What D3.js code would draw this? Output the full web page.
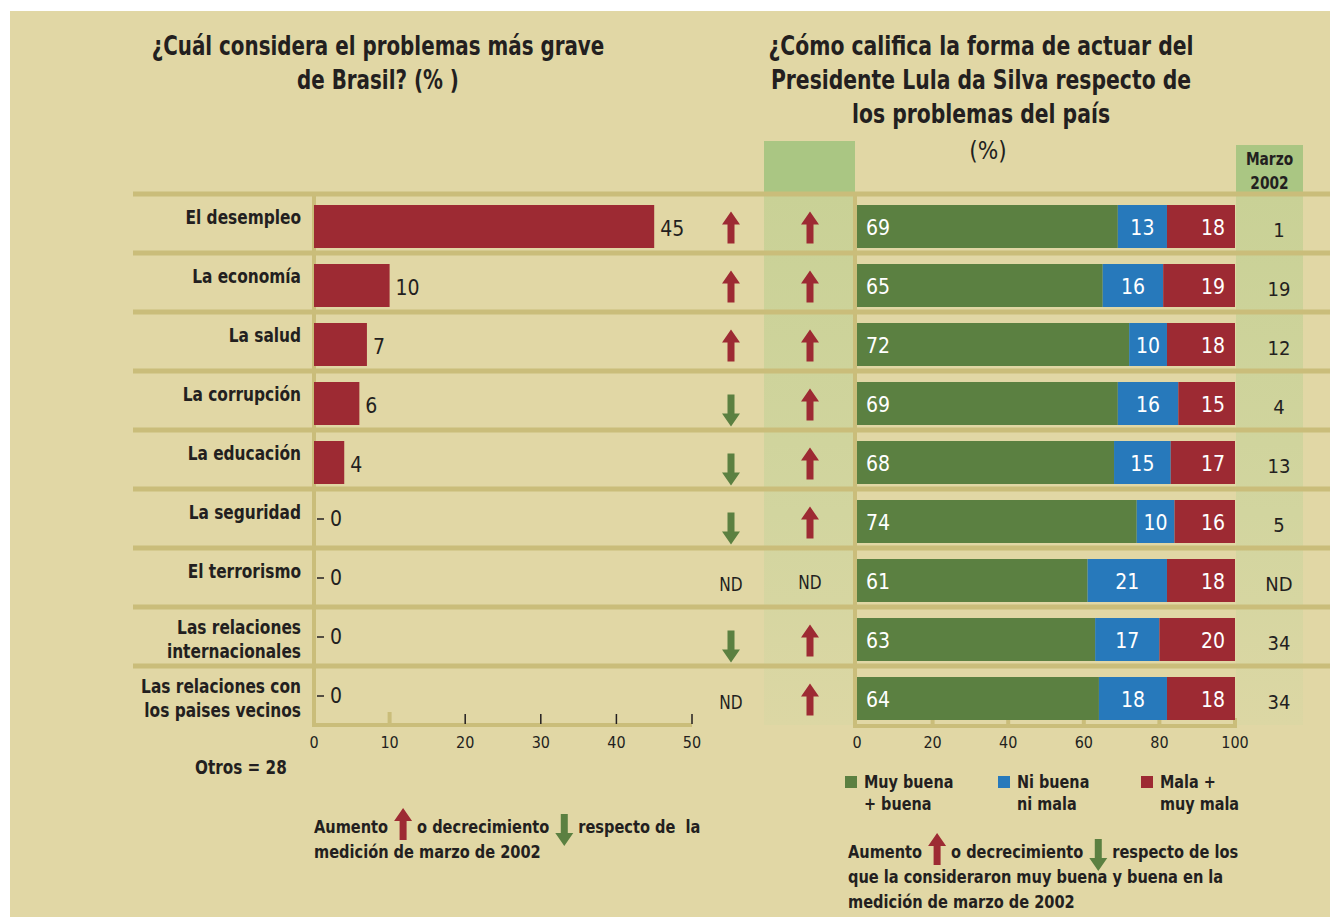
<!DOCTYPE html>
<html>
<head>
<meta charset="utf-8">
<script src="https://cdn.jsdelivr.net/npm/d3@7"></script>
<style>
  body { margin: 0; background: #fff; }
  svg text { font-family: "Liberation Sans Narrow", "DejaVu Sans Condensed", "Roboto Condensed", sans-serif; fill: #231f20; }
  .b { font-weight: bold; }
</style>
</head>
<body>
<div id="chart"></div>
<script>
// data
var categories = ["El desempleo", "La economía", "La salud", "La corrupción", "La educación",
                  "La seguridad", "El terrorismo", "Las relaciones internacionales",
                  "Las relaciones con los paises vecinos"];
var labelLines = [["El desempleo"], ["La economía"], ["La salud"], ["La corrupción"], ["La educación"],
                  ["La seguridad"], ["El terrorismo"], ["Las relaciones", "internacionales"],
                  ["Las relaciones con", "los paises vecinos"]];
var problemPct = [45, 10, 7, 6, 4, 0, 0, 0, 0];
var changeProblem = ["up", "up", "up", "down", "down", "down", "ND", "down", "ND"];
var changeRating = ["up", "up", "up", "up", "up", "up", "ND", "up", "up"];
var muyBuena = [69, 65, 72, 69, 68, 74, 61, 63, 64];
var niBuena = [13, 16, 10, 16, 15, 10, 21, 17, 18];
var mala = [18, 19, 18, 15, 17, 16, 18, 20, 18];
var marzo2002 = ["1", "19", "12", "4", "13", "5", "ND", "34", "34"];
var leftTicks = [0, 10, 20, 30, 40, 50];
var rightTicks = [0, 20, 40, 60, 80, 100];
var seriesNames = [["Muy buena", "+ buena"], ["Ni buena", "ni mala"], ["Mala +", "muy mala"]];

// colours
var red = "#9d2a33", green = "#5b8041", blue = "#2779bb";
var beige = "#e1d7a5", lineCol = "#cabd7a";
var colors = [green, blue, red];

var W = 1330, H = 917;
var svg = d3.select("#chart").append("svg").attr("width", W).attr("height", H);

// the reference face is narrower than anything installed: squeeze bold text
function squeeze(sel, k) {
  sel.each(function() {
    var L = this.getComputedTextLength();
    d3.select(this).attr("textLength", L * k).attr("lengthAdjust", "spacingAndGlyphs");
  });
  return sel;
}

var defs = svg.append("defs");
var grad = defs.append("linearGradient").attr("id", "colGrad").attr("x1", 0).attr("x2", 0).attr("y1", 0).attr("y2", 1);
grad.append("stop").attr("offset", "0%").attr("stop-color", "#c9d196");
grad.append("stop").attr("offset", "60%").attr("stop-color", "#d2d59f");
grad.append("stop").attr("offset", "100%").attr("stop-color", "#dcd7a4");

svg.append("rect").attr("x", 10).attr("y", 11).attr("width", W - 10).attr("height", H - 11).attr("fill", beige);

// scales
var y = d3.scaleBand().domain(categories).range([194, 725]);
var xL = d3.scaleLinear().domain([0, 50]).range([314, 692]);
var xR = d3.scaleLinear().domain([0, 100]).range([857, 1235]);
var barTop = 11, barH = 43;
var rowMid = function(c) { return y(c) + barTop + barH / 2; };

// green columns
var midCol = {x: 764, w: 91}, marCol = {x: 1236, w: 67};
svg.append("rect").attr("x", midCol.x).attr("y", 141).attr("width", midCol.w).attr("height", 53).attr("fill", "#aac683");
svg.append("rect").attr("x", midCol.x).attr("y", 194).attr("width", midCol.w).attr("height", 531).attr("fill", "url(#colGrad)");
svg.append("rect").attr("x", marCol.x).attr("y", 145).attr("width", marCol.w).attr("height", 49).attr("fill", "#aac683");
svg.append("rect").attr("x", marCol.x).attr("y", 194).attr("width", marCol.w).attr("height", 531).attr("fill", "url(#colGrad)");

// row separators
svg.append("g").selectAll("line").data(categories).enter().append("line")
  .attr("x1", 133).attr("x2", W)
  .attr("y1", function(d) { return y(d); }).attr("y2", function(d) { return y(d); })
  .attr("stroke", lineCol).attr("stroke-width", 5);

// titles
var titleL = ["¿Cuál considera el problemas más grave", "de Brasil? (% )"];
squeeze(svg.append("g").selectAll("text").data(titleL).enter().append("text")
  .attr("class", "b").attr("x", 378).attr("y", function(d, i) { return 55 + i * 34; })
  .attr("text-anchor", "middle").style("font-size", "26px").text(function(d) { return d; }), 0.85);
var titleR = ["¿Cómo califica la forma de actuar del", "Presidente Lula da Silva respecto de", "los problemas del país"];
squeeze(svg.append("g").selectAll("text").data(titleR).enter().append("text")
  .attr("class", "b").attr("x", 981).attr("y", function(d, i) { return 55 + i * 34; })
  .attr("text-anchor", "middle").style("font-size", "26px").text(function(d) { return d; }), 0.87);
svg.append("text").attr("x", 988).attr("y", 159).attr("text-anchor", "middle").style("font-size", "24px").text("(%)");
squeeze(svg.append("g").selectAll("text").data(["Marzo", "2002"]).enter().append("text")
  .attr("class", "b").attr("x", marCol.x + marCol.w / 2).attr("y", function(d, i) { return 165 + i * 24; })
  .attr("text-anchor", "middle").style("font-size", "17px").text(function(d) { return d; }), 0.9);

// row labels
var labG = svg.append("g");
categories.forEach(function(c, i) {
  var lines = labelLines[i];
  lines.forEach(function(l, j) {
    squeeze(labG.append("text").attr("class", "b").attr("text-anchor", "end").style("font-size", "19px")
      .attr("x", 301)
      .attr("y", lines.length === 1 ? y(c) + 30 : y(c) + 27 + j * 24)
      .text(l), 0.9);
  });
});

// axis lines
svg.append("line").attr("x1", xL(0)).attr("x2", xL(0)).attr("y1", 194).attr("y2", 727)
  .attr("stroke", lineCol).attr("stroke-width", 4);
svg.append("line").attr("x1", xL(0)).attr("x2", xL(50)).attr("y1", 725).attr("y2", 725)
  .attr("stroke", lineCol).attr("stroke-width", 4);
svg.append("line").attr("x1", xR(0) - 2).attr("x2", xR(0) - 2).attr("y1", 194).attr("y2", 728)
  .attr("stroke", lineCol).attr("stroke-width", 4);
svg.append("line").attr("x1", xR(0) - 4).attr("x2", xR(100) + 2).attr("y1", 726).attr("y2", 726)
  .attr("stroke", lineCol).attr("stroke-width", 4);

// ticks
svg.append("g").selectAll("line").data(leftTicks.slice(1)).enter().append("line")
  .attr("x1", function(d) { return xL(d); }).attr("x2", function(d) { return xL(d); })
  .attr("y1", function(d) { return d === 10 ? 712 : 714; }).attr("y2", 724)
  .attr("stroke", function(d) { return d === 10 ? lineCol : "#231f20"; })
  .attr("stroke-width", function(d) { return d === 10 ? 4 : 1.5; });
svg.append("g").selectAll("line").data(rightTicks.slice(1)).enter().append("line")
  .attr("x1", function(d) { return xR(d); }).attr("x2", function(d) { return xR(d); })
  .attr("y1", 718).attr("y2", 726).attr("stroke", lineCol).attr("stroke-width", 4);
svg.append("g").selectAll("text").data(leftTicks).enter().append("text")
  .attr("x", function(d) { return xL(d); }).attr("y", 748).attr("text-anchor", "middle")
  .style("font-size", "16px").text(function(d) { return d; });
svg.append("g").selectAll("text").data(rightTicks).enter().append("text")
  .attr("x", function(d) { return xR(d); }).attr("y", 748).attr("text-anchor", "middle")
  .style("font-size", "16px").text(function(d) { return d; });

// left bars
svg.append("g").selectAll("rect").data(categories).enter().append("rect")
  .attr("x", xL(0)).attr("y", function(c) { return y(c) + barTop; })
  .attr("width", function(c, i) { return xL(problemPct[i]) - xL(0); })
  .attr("height", barH).attr("fill", red);
svg.append("g").selectAll("text").data(categories).enter().append("text")
  .attr("x", function(c, i) { return problemPct[i] === 0 ? xL(0) + 16 : xL(problemPct[i]) + 6; })
  .attr("y", function(c, i) { return problemPct[i] === 0 ? y(c) + 37 : rowMid(c) + 9; })
  .style("font-size", "21px").text(function(c, i) { return problemPct[i]; });
svg.append("g").selectAll("line").data(categories.filter(function(c, i) { return problemPct[i] === 0; }))
  .enter().append("line")
  .attr("x1", xL(0) + 3).attr("x2", xL(0) + 10)
  .attr("y1", function(c) { return y(c) + 30; }).attr("y2", function(c) { return y(c) + 30; })
  .attr("stroke", "#231f20").attr("stroke-width", 1.5);

// arrows
function arrowPath(dir) {
  var p = [[0, -16], [9, -3], [3.5, -3], [3.5, 16], [-3.5, 16], [-3.5, -3], [-9, -3]];
  if (dir === "down") p = p.map(function(q) { return [q[0], -q[1]]; });
  return "M" + p.map(function(q) { return q.join(","); }).join("L") + "Z";
}
function drawMarks(cx, vals, ndDy) {
  var g = svg.append("g");
  vals.forEach(function(v, i) {
    var c = categories[i];
    if (v === "ND") {
      squeeze(g.append("text").attr("x", cx).attr("y", rowMid(c) + ndDy).attr("text-anchor", "middle")
        .style("font-size", "19px").text("ND"), 0.9);
    } else {
      g.append("path").attr("d", arrowPath(v))
        .attr("transform", "translate(" + cx + "," + (rowMid(c) + (v === "up" ? 1 : 7)) + ")")
        .attr("fill", v === "up" ? red : green);
    }
  });
}
drawMarks(731, changeProblem, 10);
drawMarks(810, changeRating, 8);

// stacked bars
var stackData = categories.map(function(c, i) { return {cat: c, a: muyBuena[i], b: niBuena[i], c: mala[i]}; });
var series = d3.stack().keys(["a", "b", "c"])(stackData);
var sg = svg.append("g").selectAll("g").data(series).enter().append("g")
  .attr("fill", function(d, i) { return colors[i]; });
sg.selectAll("rect").data(function(d) { return d; }).enter().append("rect")
  .attr("x", function(d) { return xR(d[0]); })
  .attr("y", function(d) { return y(d.data.cat) + barTop; })
  .attr("width", function(d) { return xR(d[1]) - xR(d[0]); })
  .attr("height", barH);
sg.each(function(s, k) {
  d3.select(this).selectAll("text").data(s).enter().append("text")
    .attr("x", function(d) { return k === 0 ? xR(d[0]) + 9 : k === 1 ? (xR(d[0]) + xR(d[1])) / 2 : xR(d[1]) - 10; })
    .attr("y", function(d) { return rowMid(d.data.cat) + 8; })
    .attr("text-anchor", k === 0 ? "start" : k === 1 ? "middle" : "end")
    .style("font-size", "21px").style("fill", "#fff")
    .text(function(d) { return d[1] - d[0]; });
});

// marzo 2002 values
svg.append("g").selectAll("text").data(categories).enter().append("text")
  .attr("x", 1279).attr("y", function(c) { return rowMid(c) + 10; })
  .attr("text-anchor", "middle").style("font-size", "20px")
  .text(function(c, i) { return marzo2002[i]; });

// otros
squeeze(svg.append("text").attr("class", "b").attr("x", 195).attr("y", 774).style("font-size", "19px").text("Otros = 28"), 0.89);

// legend
var legX = [845, 998, 1141];
seriesNames.forEach(function(n, i) {
  svg.append("rect").attr("x", legX[i]).attr("y", 776).attr("width", 12).attr("height", 12).attr("fill", colors[i]);
  n.forEach(function(t, j) {
    squeeze(svg.append("text").attr("class", "b").attr("x", legX[i] + 19).attr("y", 788 + j * 22)
      .style("font-size", "18px").text(t), 0.89);
  });
});

// notes with inline arrows
function note(x0, y0, first, rest) {
  var parts = [first[0], "up", first[1], "down", first[2]];
  var x = x0;
  parts.forEach(function(p) {
    if (p === "up" || p === "down") {
      svg.append("path").attr("d", arrowPath(p))
        .attr("transform", "translate(" + (x + 10) + "," + (y0 - 7 + (p === "up" ? -2 : 4)) + ")")
        .attr("fill", p === "up" ? red : green);
      x += 24;
    } else {
      var t = svg.append("text").attr("class", "b").attr("x", x).attr("y", y0)
        .style("font-size", "18px").style("white-space", "pre").text(p);
      var L = t.node().getComputedTextLength() * 0.9;
      t.attr("textLength", L).attr("lengthAdjust", "spacingAndGlyphs");
      x += L + 5;
    }
  });
  rest.forEach(function(r, j) {
    squeeze(svg.append("text").attr("class", "b").attr("x", x0).attr("y", y0 + 25 * (j + 1))
      .style("font-size", "18px").text(r), 0.9);
  });
}
note(314, 833, ["Aumento", "o decrecimiento", "respecto de  la"], ["medición de marzo de 2002"]);
note(848, 858, ["Aumento", "o decrecimiento", "respecto de los"],
     ["que la consideraron muy buena y buena en la", "medición de marzo de 2002"]);
</script>
</body>
</html>
